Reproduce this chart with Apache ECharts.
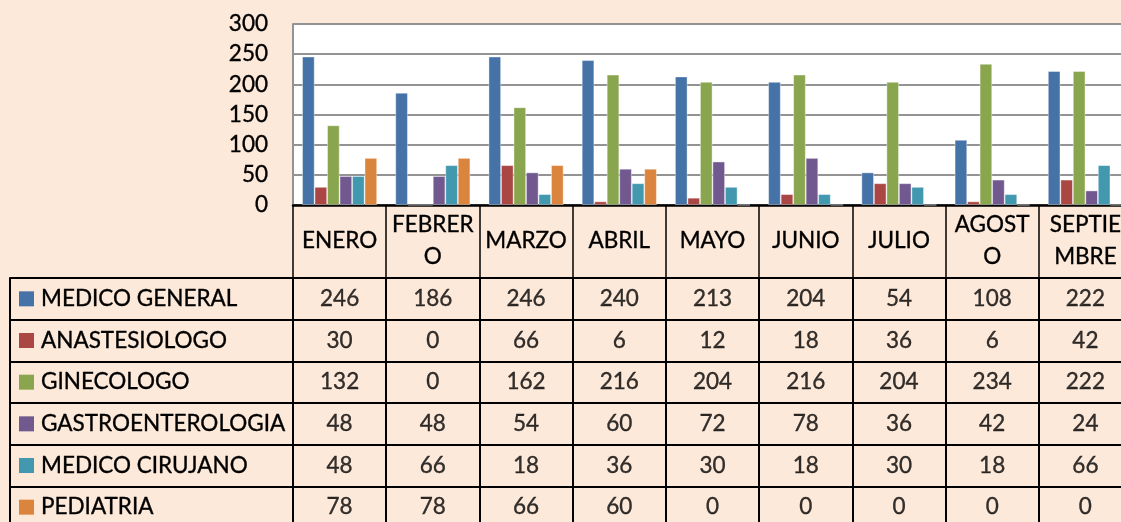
<!DOCTYPE html>
<html>
<head>
<meta charset="utf-8">
<style>
  html, body { margin: 0; padding: 0; background: #FDE9D9; }
  #chart { width: 1121px; height: 522px; }
</style>
<script src="https://cdn.jsdelivr.net/npm/echarts@6/dist/echarts.min.js"></script>
</head>
<body>
<div id="chart"></div>
<script>
// Months (categories) and the header text shown in the data table
const months = ['ENERO', 'FEBRERO', 'MARZO', 'ABRIL', 'MAYO', 'JUNIO', 'JULIO', 'AGOSTO', 'SEPTIEMBRE'];
const monthLabels = ['ENERO', 'FEBRER\nO', 'MARZO', 'ABRIL', 'MAYO', 'JUNIO', 'JULIO', 'AGOST\nO', 'SEPTIE\nMBRE'];

// Consultations per specialty
const seriesNames = ['MEDICO GENERAL', 'ANASTESIOLOGO', 'GINECOLOGO', 'GASTROENTEROLOGIA', 'MEDICO CIRUJANO', 'PEDIATRIA'];
const medicoGeneral     = [246, 186, 246, 240, 213, 204, 54, 108, 222];
const anastesiologo     = [30, 0, 66, 6, 12, 18, 36, 6, 42];
const ginecologo        = [132, 0, 162, 216, 204, 216, 204, 234, 222];
const gastroenterologia = [48, 48, 54, 60, 72, 78, 36, 42, 24];
const medicoCirujano    = [48, 66, 18, 36, 30, 18, 30, 18, 66];
const pediatria         = [78, 78, 66, 60, 0, 0, 0, 0, 0];

const valueTicks = { min: 0, max: 300, interval: 50 };

const colors = ['#4572A7', '#AA4643', '#89A54E', '#71588F', '#4198AF', '#DB843D'];
const allSeries = [medicoGeneral, anastesiologo, ginecologo, gastroenterologia, medicoCirujano, pediatria];

const FONT = 'Lato, "Open Sans", sans-serif';
const FS = 22.5;
// slightly heavier glyphs for all text
const ink = { color: '#000', textBorderColor: '#000', textBorderWidth: 0.35 };

const chart = echarts.init(document.getElementById('chart'), null, { renderer: 'canvas' });

// Rich styles for legend keys inside the table's first column
const rich = { t: { fontSize: FS, fontFamily: FONT, padding: [0, 0, 0, 7], ...ink } };
colors.forEach((c, i) => {
  rich['k' + i] = { width: 15, height: 15, backgroundColor: c };
});

// Table cells: one point per (month, specialty) carrying the value as its label
const tableData = [];
allSeries.forEach((arr, r) => {
  arr.forEach((v, m) => tableData.push([m, r, v]));
});

const barSeries = allSeries.map((arr, i) => ({
  name: seriesNames[i],
  type: 'bar',
  xAxisIndex: 0,
  yAxisIndex: 0,
  data: arr,
  barWidth: 12.5,
  barGap: '0%',
  itemStyle: { color: colors[i], borderColor: 'rgba(255,255,255,0.5)', borderWidth: 0.8 },
  emphasis: { disabled: true },
  animation: false
}));

const option = {
  backgroundColor: '#FDE9D9',
  animation: false,
  textStyle: { fontFamily: FONT },
  grid: [
    { left: 293, width: 839, top: 24, height: 181, outerBoundsMode: 'none', containLabel: false,
      show: true, backgroundColor: '#ffffff', borderWidth: 0 },
    { left: 293, width: 839, top: 278, height: 250, outerBoundsMode: 'none', containLabel: false, show: false }
  ],
  xAxis: [
    {
      type: 'category', gridIndex: 0, data: months,
      axisLine: { lineStyle: { color: '#000', width: 2.5 } },
      axisTick: { show: true, length: 73, interval: 0, lineStyle: { color: '#000', width: 1.5 } },
      axisLabel: {
        interval: 0, margin: 36, verticalAlign: 'middle', align: 'center',
        fontSize: FS, lineHeight: 32, fontFamily: FONT, ...ink,
        formatter: (v, idx) => monthLabels[idx]
      },
      splitLine: { show: false }
    },
    {
      type: 'category', gridIndex: 1, data: months, position: 'top',
      axisLine: { show: false }, axisTick: { show: false }, axisLabel: { show: false },
      splitLine: { show: true, interval: 0, lineStyle: { color: '#000', width: 2 } }
    }
  ],
  yAxis: [
    {
      type: 'value', gridIndex: 0, ...valueTicks,
      axisLine: { show: true, lineStyle: { color: '#939393', width: 2 } },
      axisTick: { show: false },
      axisLabel: { fontSize: FS, margin: 25, fontFamily: FONT, ...ink },
      splitLine: { lineStyle: { color: '#939393', width: 2 } }
    },
    {
      type: 'category', gridIndex: 1, data: seriesNames, inverse: true,
      axisLine: { show: true, lineStyle: { color: '#000', width: 2 } },
      axisTick: { show: true, length: 283, interval: 0, lineStyle: { color: '#000', width: 2 } },
      axisLabel: {
        interval: 0, margin: 274, align: 'left', verticalAlign: 'middle',
        formatter: (v, idx) => '{k' + idx + '|}{t|' + v + '}',
        rich: rich
      },
      splitLine: { show: true, interval: 0, lineStyle: { color: '#000', width: 2 } }
    },
    {
      // left border of the table's label column
      type: 'category', gridIndex: 1, data: seriesNames, inverse: true,
      position: 'left', offset: 283,
      axisLine: { show: true, lineStyle: { color: '#000', width: 2 } },
      axisTick: { show: false }, axisLabel: { show: false }, splitLine: { show: false }
    }
  ],
  series: barSeries.concat([{
    type: 'scatter',
    xAxisIndex: 1,
    yAxisIndex: 1,
    data: tableData,
    symbolSize: 1,
    itemStyle: { color: 'transparent' },
    label: {
      show: true, position: 'inside', fontSize: FS, fontFamily: FONT, ...ink,
      formatter: p => String(p.value[2])
    },
    emphasis: { disabled: true },
    silent: true,
    animation: false
  }])
};

chart.setOption(option);
</script>
</body>
</html>
